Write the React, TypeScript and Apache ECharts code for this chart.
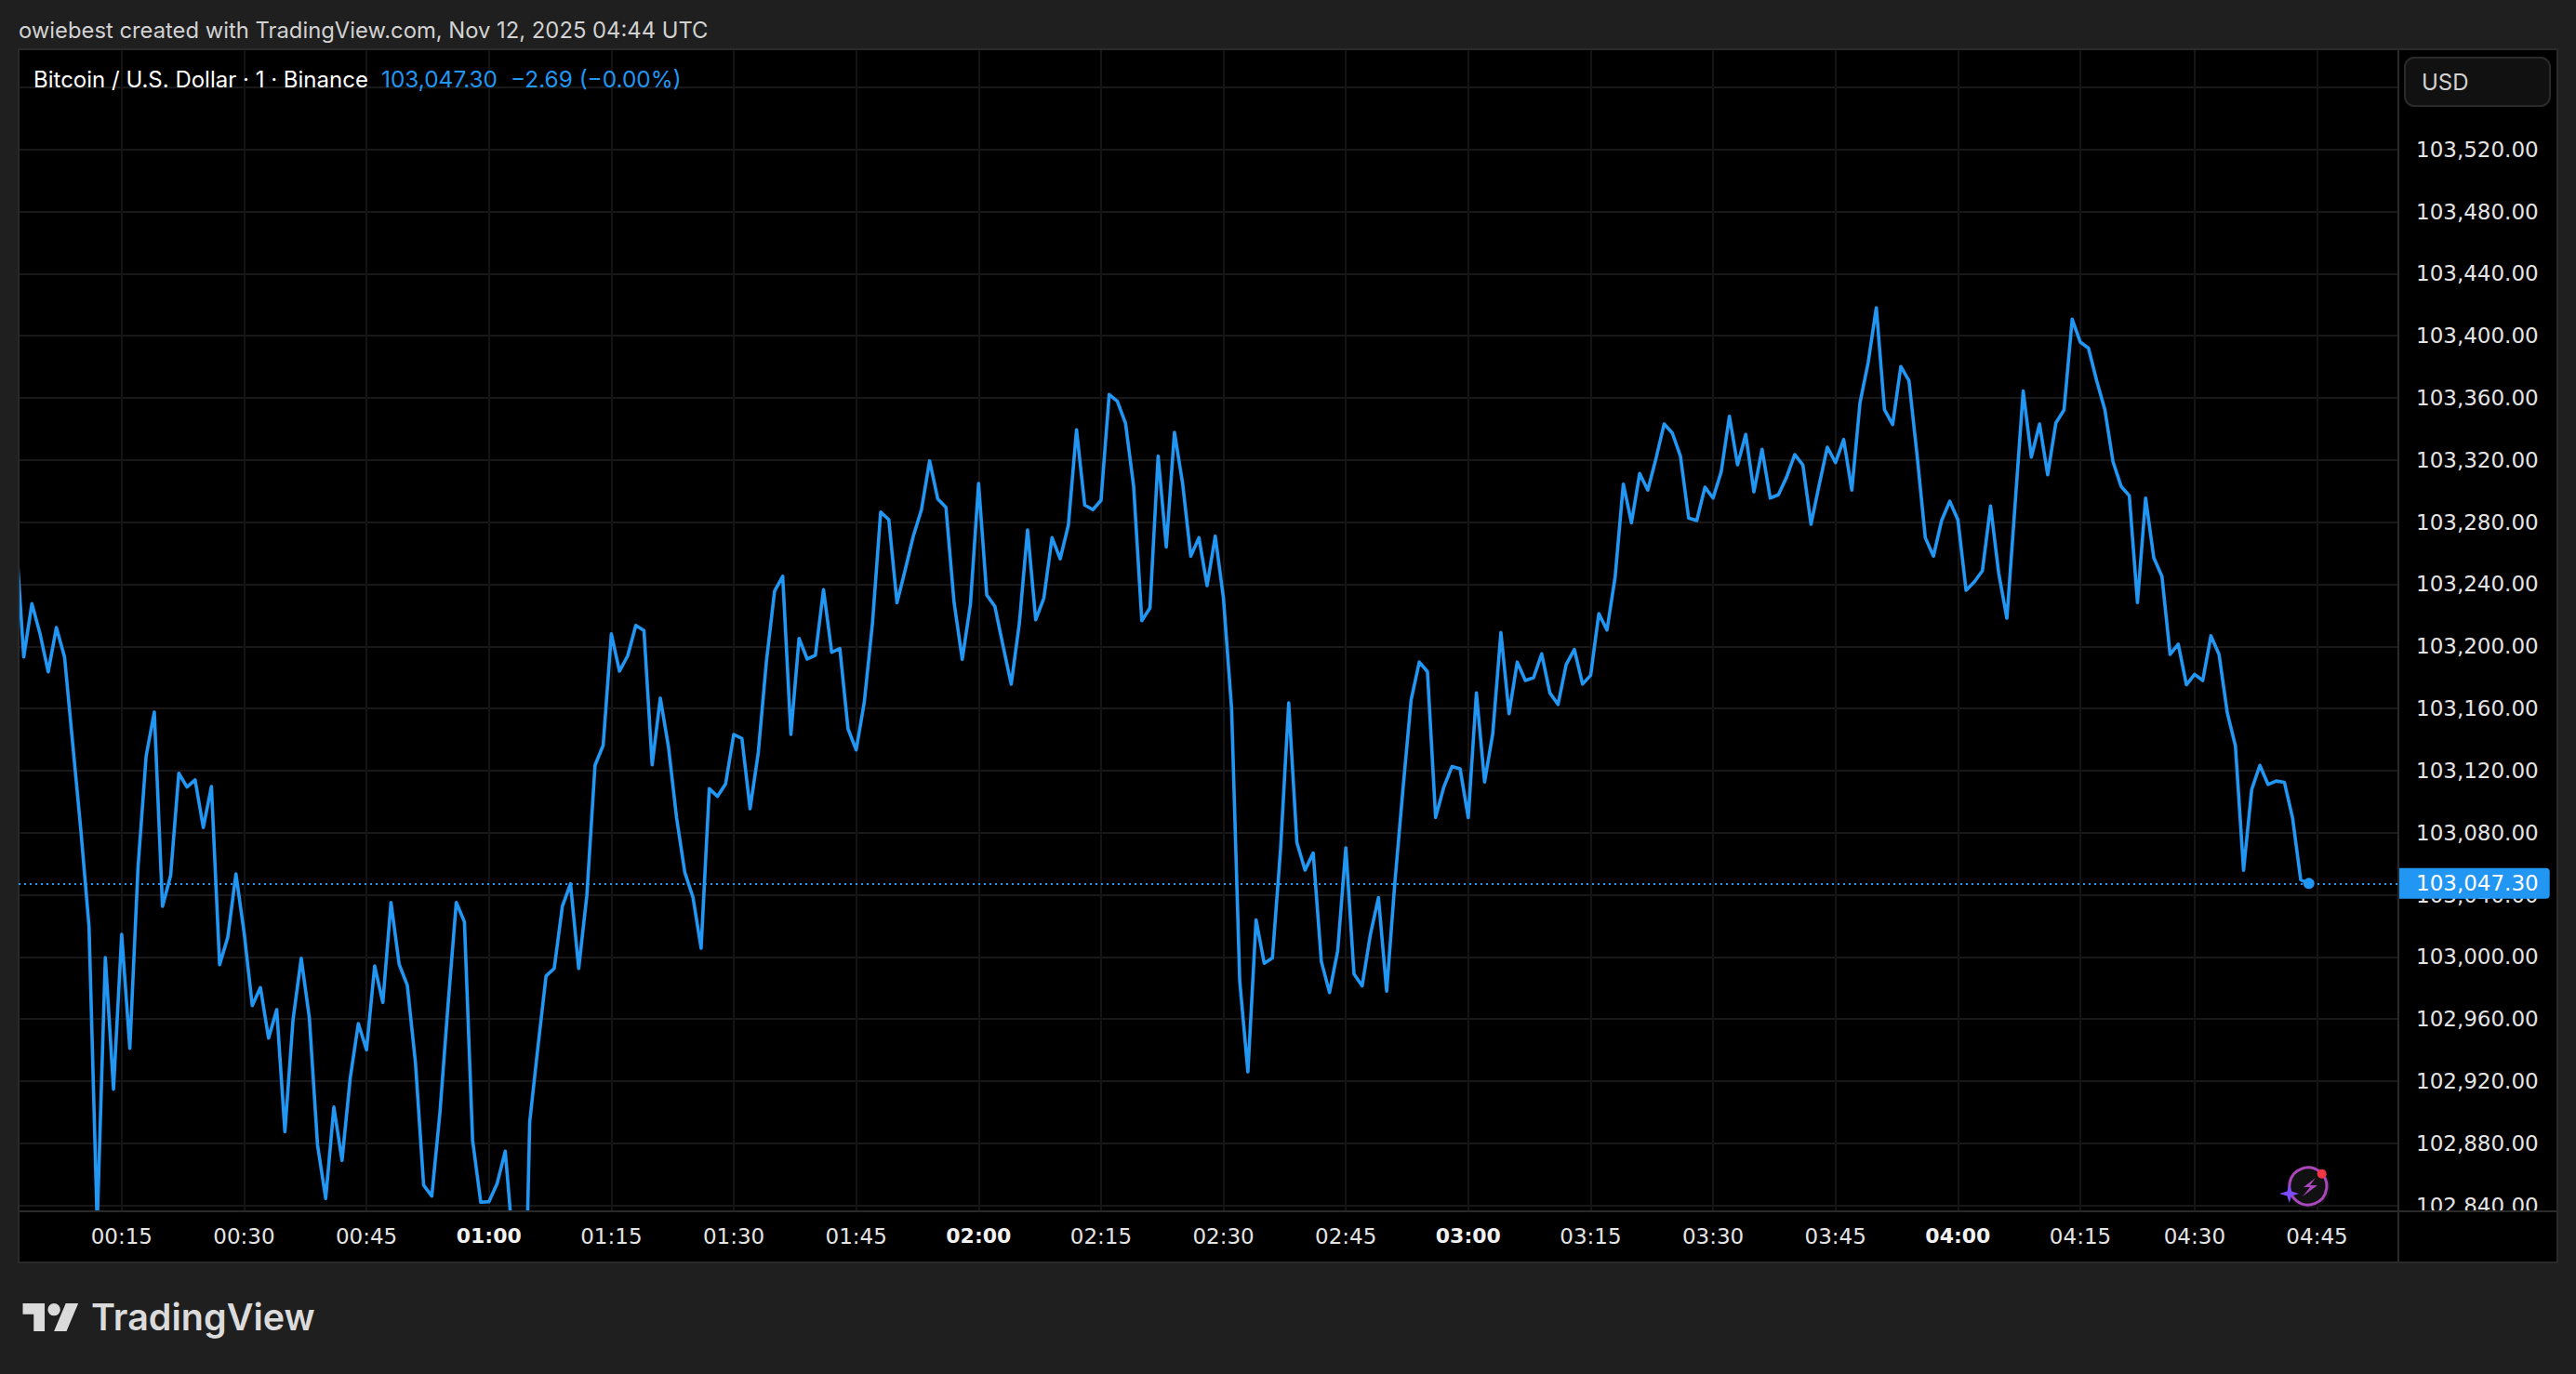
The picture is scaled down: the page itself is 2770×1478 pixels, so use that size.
import { useEffect, useRef } from 'react';
import * as echarts from 'echarts';

// one close per 1-minute bar, first bar is index 2 (bar 15 = 00:15)
const firstBar = 2;
const closes = [
  103273.8, 103193.2, 103227.5, 103208.1, 103183.6, 103212.1, 103193.2, 103137.3, 103081.5, 103019.6,
  102827.8, 102999.6, 102914.8, 103014.6, 102941.2, 103057.5, 103129.4, 103157.7, 103032.6, 103052.5,
  103118.3, 103109.4, 103114.0, 103083.4, 103109.8, 102995.0, 103012.6, 103053.5, 103015.8, 102968.7,
  102980.3, 102947.7, 102966.1, 102887.5, 102959.7, 102999.2, 102960.7, 102878.9, 102844.4, 102903.3,
  102869.0, 102921.8, 102957.1, 102940.2, 102994.2, 102970.7, 103035.1, 102995.3, 102981.7, 102931.8,
  102853.0, 102846.0, 102899.9, 102969.7, 103035.1, 103022.6, 102881.9, 102842.0, 102842.4, 102854.0,
  102874.9, 102812.3, 102666.2, 102893.9, 102941.8, 102987.7, 102992.6, 103032.6, 103047.1, 102992.6,
  103039.6, 103123.4, 103136.3, 103208.1, 103184.0, 103193.9, 103213.5, 103210.2, 103123.7, 103166.7,
  103135.3, 103089.4, 103054.5, 103038.5, 103005.6, 103108.4, 103103.4, 103111.4, 103143.3, 103140.7,
  103095.4, 103131.3, 103190.2, 103235.5, 103245.1, 103143.3, 103205.1, 103191.8, 103194.2, 103236.5,
  103196.2, 103198.6, 103146.9, 103133.3, 103164.3, 103215.1, 103286.5, 103281.6, 103228.1, 103249.1,
  103271.0, 103288.0, 103319.5, 103294.9, 103289.5, 103228.1, 103191.6, 103227.1, 103304.9, 103233.1,
  103225.7, 103200.2, 103175.6, 103215.1, 103275.0, 103217.1, 103231.1, 103270.0, 103256.4, 103278.0,
  103339.5, 103291.0, 103288.0, 103294.0, 103362.2, 103357.8, 103343.8, 103303.0, 103216.5, 103224.7,
  103322.5, 103264.0, 103337.9, 103304.9, 103258.1, 103270.0, 103239.1, 103271.0, 103231.3, 103160.1,
  102984.4, 102926.0, 103023.8, 102995.9, 102999.3, 103069.2, 103163.6, 103073.7, 103055.9, 103066.9,
  102997.0, 102977.1, 103003.9, 103070.3, 102989.0, 102981.4, 103014.2, 103038.2, 102978.0, 103047.4,
  103108.1, 103165.5, 103189.9, 103183.7, 103089.8, 103109.3, 103122.6, 103121.2, 103089.8, 103170.0,
  103112.7, 103143.7, 103208.9, 103156.7, 103189.9, 103178.0, 103179.8, 103195.2, 103170.0, 103162.6,
  103188.3, 103198.0, 103175.7, 103181.4, 103221.1, 103210.5, 103244.8, 103304.5, 103279.6, 103311.3,
  103300.6, 103320.9, 103343.2, 103337.4, 103322.5, 103282.6, 103281.0, 103302.5, 103295.5, 103312.5,
  103348.2, 103316.9, 103336.5, 103299.5, 103326.9, 103295.5, 103297.6, 103308.9, 103323.5, 103316.9,
  103278.6, 103303.9, 103328.3, 103318.3, 103333.2, 103300.6, 103356.8, 103382.7, 103418.1, 103352.4,
  103342.8, 103380.2, 103371.2, 103322.9, 103270.0, 103258.1, 103281.0, 103293.5, 103281.4, 103236.1,
  103241.5, 103248.7, 103290.4, 103247.0, 103218.1, 103291.0, 103364.4, 103321.9, 103343.2, 103310.5,
  103343.8, 103352.2, 103410.7, 103395.9, 103392.0, 103371.1, 103352.5, 103319.0, 103303.0, 103297.1,
  103228.2, 103295.5, 103257.0, 103245.1, 103194.8, 103201.4, 103175.3, 103182.0, 103178.0, 103206.8,
  103194.8, 103157.4, 103136.0, 103055.8, 103107.9, 103123.4, 103111.1, 103113.3, 103112.5, 103089.7,
  103049.7, 103047.3,
];

const lastPrice = 103047.3;

// the axis counts bars, not minutes: one bar is missing between 04:15 and 04:30
const timeTickBars = [15, 30, 45, 60, 75, 90, 105, 120, 135, 150, 165, 180, 195, 210, 225, 240, 255, 269, 284];
const timeTickLabels = [
  '00:15', '00:30', '00:45', '01:00', '01:15', '01:30', '01:45', '02:00', '02:15', '02:30',
  '02:45', '03:00', '03:15', '03:30', '03:45', '04:00', '04:15', '04:30', '04:45',
];

const priceGridLines = [
  103560, 103520, 103480, 103440, 103400, 103360, 103320, 103280, 103240, 103200, 103160,
  103120, 103080, 103040, 103000, 102960, 102920, 102880, 102840,
];
const priceTickLabels = priceGridLines.slice(1);

const BLUE = '#2196f3';
const BORDER = '#2a2a2a';
const PAGE = '#1f1f1f';
const FONT = 'Inter, Roboto, sans-serif';
const AXIS_FONT = '"DejaVu Sans", Inter, sans-serif';

const formatPrice = (v: number) =>
  v.toLocaleString('en-US', { minimumFractionDigits: 2, maximumFractionDigits: 2 });

const App = () => {
  const chartRef = useRef<HTMLDivElement>(null);

  useEffect(() => {
    if (!chartRef.current) return;

    echarts.graphic.registerShape(
      'tvLogo',
      echarts.graphic.extendPath('M14 22H7V11H0V4h14v18zM28 22h-8l7.5-18h8L28 22zM24 8a4 4 0 1 1-8 0a4 4 0 1 1 8 0z', {}),
    );
    const chart = echarts.init(chartRef.current, undefined, { renderer: 'svg' });

    const xMin = 2.37;
    const xMax = 293.97;
    const yMin = 102836.8;
    const yMax = 103583.9;

    const option: any = {
      animation: false,
      backgroundColor: PAGE,
      grid: { left: 20, top: 54, width: 2559, height: 1248 },
      xAxis: [
        {
          type: 'value',
          min: xMin,
          max: xMax,
          axisLine: { show: false },
          axisTick: { show: false, customValues: timeTickBars },
          axisLabel: { show: false },
          splitLine: { show: true, lineStyle: { color: '#141414', width: 2 } },
          z: 0,
        },
        {
          // second axis only for the labels, so they sit above the bottom pane
          type: 'value',
          min: xMin,
          max: xMax,
          position: 'bottom',
          axisLine: { show: false },
          axisTick: { show: false, customValues: timeTickBars },
          splitLine: { show: false },
          z: 6,
          axisLabel: {
            customValues: timeTickBars,
            margin: 16,
            verticalAlign: 'top',
            color: '#e4e4e4',
            fontFamily: AXIS_FONT,
            fontSize: 23,
            formatter: (v: number) => {
              const label = timeTickLabels[timeTickBars.indexOf(v)] ?? '';
              return label.endsWith(':00') ? `{b|${label}}` : label;
            },
            rich: {
              b: { fontFamily: AXIS_FONT, fontSize: 22, fontWeight: 700, color: '#f2f2f2' },
            },
          },
        },
      ],
      yAxis: {
        type: 'value',
        position: 'right',
        min: yMin,
        max: yMax,
        axisLine: { show: false },
        axisTick: { show: false, customValues: priceGridLines },
        splitLine: { show: true, lineStyle: { color: '#181818', width: 2 } },
        axisLabel: {
          customValues: priceTickLabels,
          margin: 19,
          color: '#e4e4e4',
          fontFamily: AXIS_FONT,
          fontSize: 23,
          formatter: (v: number) => formatPrice(v),
        },
        z: 0,
      },
      series: [
        {
          type: 'line',
          data: closes.map((c, i) => [firstBar + i, c]),
          showSymbol: false,
          symbol: 'none',
          clip: true,
          z: 2,
          lineStyle: { color: BLUE, width: 3.6, join: 'round' },
          markPoint: {
            silent: true,
            symbol: 'circle',
            symbolSize: 12,
            itemStyle: { color: BLUE },
            label: { show: false },
            data: [{ coord: [firstBar + closes.length - 1, lastPrice] }],
          },
          markLine: {
            silent: true,
            symbol: 'none',
            lineStyle: { color: BLUE, width: 2, type: [2, 4], opacity: 1 },
            label: {
              show: true,
              position: 'end',
              distance: 1,
              formatter: () => formatPrice(lastPrice),
              color: '#ffffff',
              fontFamily: AXIS_FONT,
              fontSize: 23,
              backgroundColor: BLUE,
              borderRadius: [0, 4, 4, 0],
              padding: [5, 12, 5, 18],
            },
            data: [{ yAxis: lastPrice }],
          },
        },
      ],
      graphic: {
        elements: [
          // panes
          { type: 'rect', z: -1, silent: true, shape: { x: 20, y: 53, width: 2730, height: 1305 }, style: { fill: '#000000' } },
          // covers: the line's clip reaches a little past the grid, and the 102,840.00 label is cut by the time pane
          { type: 'rect', z: 3, silent: true, shape: { x: 0, y: 53, width: 20, height: 1305 }, style: { fill: PAGE } },
          { type: 'rect', z: 3, silent: true, shape: { x: 20, y: 1303, width: 2730, height: 55 }, style: { fill: '#000000' } },
          { type: 'rect', z: 5, silent: true, shape: { x: 20, y: 53, width: 2730, height: 1305 }, style: { fill: 'none', stroke: BORDER, lineWidth: 2 } },
          { type: 'line', z: 5, silent: true, shape: { x1: 2579, y1: 53, x2: 2579, y2: 1358 }, style: { stroke: BORDER, lineWidth: 2 } },
          { type: 'line', z: 5, silent: true, shape: { x1: 20, y1: 1303, x2: 2750, y2: 1303 }, style: { stroke: BORDER, lineWidth: 2 } },
          // header
          { type: 'text', z: 7, x: 20, y: 32, style: { text: 'owiebest created with TradingView.com, Nov 12, 2025 04:44 UTC', fill: '#d1d1d1', font: `23.8px ${FONT}`, verticalAlign: 'middle' } },
          { type: 'text', z: 7, x: 36, y: 85, style: { text: 'Bitcoin / U.S. Dollar · 1 · Binance', fill: '#ffffff', font: `24px ${FONT}`, verticalAlign: 'middle' } },
          { type: 'text', z: 7, x: 410, y: 85, style: { text: '103,047.30', fill: BLUE, font: `24.4px ${FONT}`, verticalAlign: 'middle' } },
          { type: 'text', z: 7, x: 549, y: 85, style: { text: '−2.69 (−0.00%)', fill: BLUE, font: `24.4px ${FONT}`, verticalAlign: 'middle' } },
          // currency button
          { type: 'rect', z: 7, silent: true, shape: { x: 2586, y: 62, width: 156, height: 52, r: 10 }, style: { fill: '#111111', stroke: BORDER, lineWidth: 2 } },
          { type: 'text', z: 8, x: 2604, y: 88, style: { text: 'USD', fill: '#d1d1d1', font: `24px ${FONT}`, verticalAlign: 'middle' } },
          // bolt badge
          { type: 'circle', z: 7, silent: true, shape: { cx: 2482.7, cy: 1276.7, r: 23 }, style: { fill: '#111111' } },
          { type: 'arc', z: 7, silent: true, shape: { cx: 2482.7, cy: 1276.7, r: 20, startAngle: 2.3, endAngle: 0.5 * Math.PI + 3.2 * Math.PI, clockwise: true }, style: { stroke: '#ab47bc', lineWidth: 3, fill: 'none' } },
          { type: 'polygon', z: 7, silent: true, shape: { points: [[2490, 1267], [2477, 1277], [2484, 1277], [2476, 1287], [2492, 1275], [2484, 1275]] }, style: { fill: '#ab47bc' } },
          { type: 'polygon', z: 7, silent: true, shape: { points: [[2461.7, 1274], [2464, 1281.5], [2472, 1284], [2464, 1286.5], [2461.7, 1294], [2459.4, 1286.5], [2451, 1284], [2459.4, 1281.5]] }, style: { fill: '#7c4dff' } },
          { type: 'circle', z: 7, silent: true, shape: { cx: 2496.7, cy: 1262.7, r: 5 }, style: { fill: '#f23645' } },
          // brand
          { type: 'tvLogo', z: 7, silent: true, x: 24.5, y: 1395.3, scaleX: 1.68, scaleY: 1.67, style: { fill: '#dbdbdb' } },
          { type: 'text', z: 7, x: 98, y: 1417, style: { text: 'TradingView', fill: '#dbdbdb', font: `600 39.5px ${FONT}`, verticalAlign: 'middle' } },
        ],
      },
    };

    chart.setOption(option);

    return () => {
      chart.dispose();
    };
  }, []);

  return <div ref={chartRef} style={{ position: 'fixed', left: 0, top: 0, width: 2770, height: 1478 }} />;
};

export default App;
